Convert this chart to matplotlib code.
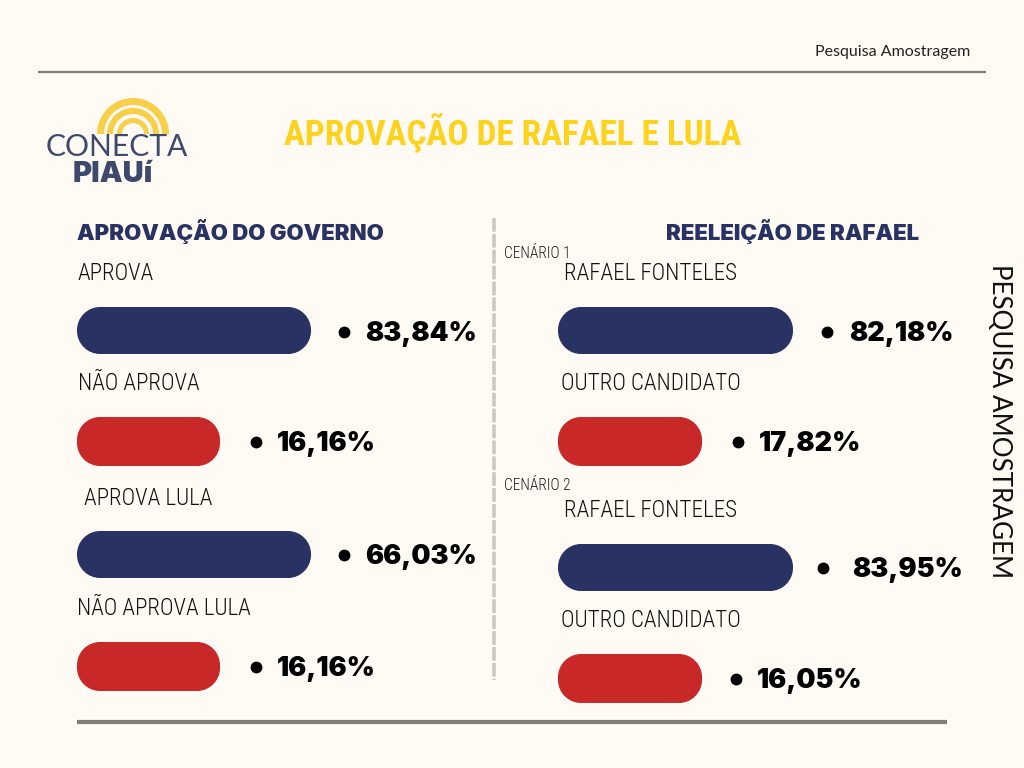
import matplotlib
matplotlib.use('Agg')
import matplotlib.pyplot as plt
from matplotlib.patches import PathPatch, Wedge
from matplotlib.path import Path

# values
gov_labels = ['APROVA', 'NÃO APROVA', 'APROVA LULA', 'NÃO APROVA LULA']
gov_values = [83.84, 16.16, 66.03, 16.16]
gov_lengths = [234, 143, 234, 143]

reel_labels = ['RAFAEL FONTELES', 'OUTRO CANDIDATO', 'RAFAEL FONTELES', 'OUTRO CANDIDATO']
reel_values = [82.18, 17.82, 83.95, 16.05]
reel_lengths = [235, 144, 235, 144]

scenarios = ['CENÁRIO 1', 'CENÁRIO 2']

BG = '#FFFAF4'
NAVY = '#283263'
RED = '#C82828'
YELLOW = '#FFD21E'
GRAY = '#7F7F7A'
LOGO = '#3D4A6D'
# Roboto Condensed is not on the promised font list, so Roboto stays as the fallback
NARROW = ['Roboto Condensed', 'Roboto']

fig = plt.figure(figsize=(10.24, 7.68), dpi=100, facecolor=BG)
ax = fig.add_axes([0, 0, 1, 1])
ax.set_xlim(0, 1024)
ax.set_ylim(768, 0)
ax.axis('off')


def px(size):
    return size * 0.72


def rounded_bar(x, y, w, h, r, color):
    k = r * 0.45
    verts = [(x + r, y), (x + w - r, y),
             (x + w - k, y), (x + w, y + k), (x + w, y + r),
             (x + w, y + h - r),
             (x + w, y + h - k), (x + w - k, y + h), (x + w - r, y + h),
             (x + r, y + h),
             (x + k, y + h), (x, y + h - k), (x, y + h - r),
             (x, y + r),
             (x, y + k), (x + k, y), (x + r, y),
             (x + r, y)]
    codes = [Path.MOVETO, Path.LINETO,
             Path.CURVE4, Path.CURVE4, Path.CURVE4,
             Path.LINETO,
             Path.CURVE4, Path.CURVE4, Path.CURVE4,
             Path.LINETO,
             Path.CURVE4, Path.CURVE4, Path.CURVE4,
             Path.LINETO,
             Path.CURVE4, Path.CURVE4, Path.CURVE4,
             Path.CLOSEPOLY]
    ax.add_patch(PathPatch(Path(verts, codes), fc=color, ec='none'))


def draw_row(label, value, length, x0, y0, h, label_x, label_y, dot_x, text_x, text_y, color):
    ax.text(label_x, label_y + 1, label, fontsize=px(23), family=NARROW, weight='light',
            color='#111111', va='center', ha='left')
    rounded_bar(x0, y0, length, h, 23, color)
    ax.plot([dot_x], [text_y], 'o', ms=7.5, color='black')
    ax.text(text_x, text_y + 2, f'{value:.2f}%'.replace('.', ','), fontsize=px(27), family='Inter',
            weight=900, color='black', va='center', ha='left')


# header
ax.plot([38, 986], [72, 72], color=GRAY, lw=1.6, solid_capstyle='butt')
ax.text(970, 52, 'Pesquisa Amostragem', fontsize=px(16), family='Lato', color='#222222',
        ha='right', va='center')
ax.text(513, 132, 'APROVAÇÃO DE RAFAEL E LULA', fontsize=px(35), family=NARROW, weight='bold',
        color=YELLOW, ha='center', va='center')

# logo
for r, w in zip([36, 26, 16], [7, 6, 5]):
    ax.add_patch(Wedge((133, 134), r, 180, 360, width=w, fc='#F9CF4A', ec='none'))
ax.text(117, 147, 'CONECTA', fontsize=px(30), family='Lato', color=LOGO,
        ha='center', va='center')
ax.text(113, 174, 'PIAUí', fontsize=px(29), family='Inter', weight=900, color=LOGO,
        ha='center', va='center')

# section titles
ax.text(77, 231, 'APROVAÇÃO DO GOVERNO', fontsize=px(22.2), family='Inter', weight=900,
        color=NAVY, ha='left', va='center')
ax.text(666, 231, 'REELEIÇÃO DE RAFAEL', fontsize=px(22.2), family='Inter', weight=900,
        color=NAVY, ha='left', va='center')

# divider
ax.plot([494, 494], [218, 680], color='#C9C9C5', lw=2.6, ls=(0, (3.8, 0.6)))

# left column
bar_colors = [NAVY, RED, NAVY, RED]
bar_h = [47, 49, 47, 49]
gov_y = [307, 417, 531, 642]
gov_label_x = [78, 78, 84, 77]
gov_label_y = [272, 382, 497, 607]
gov_dot_x = [344, 256, 344, 256]
gov_text_x = [365, 277, 365, 277]
gov_text_y = [332, 442, 555, 667]
for i in range(4):
    draw_row(gov_labels[i], gov_values[i], gov_lengths[i], 77, gov_y[i], bar_h[i],
             gov_label_x[i], gov_label_y[i], gov_dot_x[i], gov_text_x[i], gov_text_y[i],
             bar_colors[i])

# right column
reel_y = [307, 417, 544, 654]
reel_label_x = [564, 561, 564, 561]
reel_label_y = [272, 382, 509, 619]
reel_dot_x = [827, 738, 823, 736]
reel_text_x = [849, 759, 852, 757]
reel_text_y = [332, 442, 568, 679]
for i in range(4):
    draw_row(reel_labels[i], reel_values[i], reel_lengths[i], 558, reel_y[i], bar_h[i],
             reel_label_x[i], reel_label_y[i], reel_dot_x[i], reel_text_x[i], reel_text_y[i],
             bar_colors[i])

for name, y in zip(scenarios, [253, 486]):
    ax.text(504, y, name, fontsize=px(15.5), family=NARROW, weight='light', color='#222222',
            ha='left', va='center')

# side text and footer
ax.text(1000, 421, 'PESQUISA AMOSTRAGEM', fontsize=px(26), family='Lato', color='#111111',
        rotation=-90, ha='center', va='center')
ax.plot([77, 947], [722, 722], color=GRAY, lw=3, solid_capstyle='butt')

fig.savefig('out.png', dpi=100, facecolor=BG)
